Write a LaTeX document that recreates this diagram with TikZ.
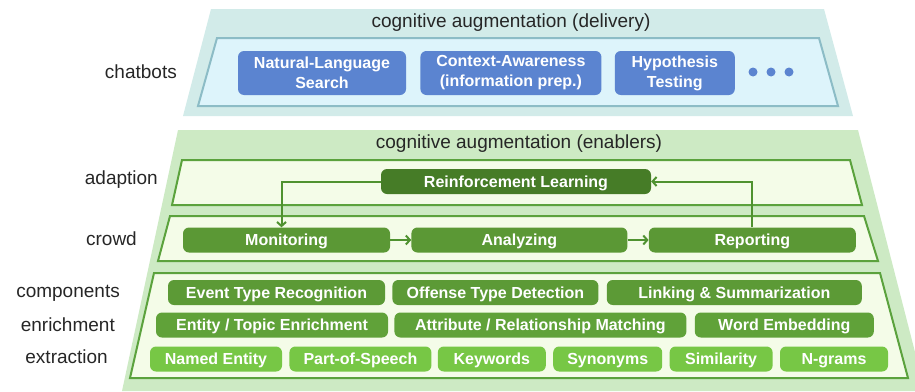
\documentclass[tikz,border=0pt]{standalone}
\usepackage{fontspec}
\setmainfont{Liberation Sans}
\usepackage{tikz}
\usetikzlibrary{arrows.meta}
\usetikzlibrary{positioning}
\definecolor{tealout}{HTML}{D2EBE9}
\definecolor{tealin}{HTML}{DDF4FB}
\definecolor{tealline}{HTML}{8CBCC6}
\definecolor{boxblue}{HTML}{5B84D0}
\definecolor{greenout}{HTML}{CDEAC4}
\definecolor{greenin}{HTML}{F4FCE8}
\definecolor{greenline}{HTML}{5BA23D}
\definecolor{rlgreen}{HTML}{467C27}
\definecolor{midgreen}{HTML}{5B9835}
\definecolor{compgreen}{HTML}{5C9A36}
\definecolor{enrgreen}{HTML}{60A239}
\definecolor{extgreen}{HTML}{77C745}
\definecolor{arrowgreen}{HTML}{4F9230}
\tikzset{
    block/.style={
           rectangle,
           rounded corners=6pt,
           fill=boxblue,
           text=white,
           font=\fontsize{16}{20}\selectfont\bfseries,
           minimum height=44pt,
           inner sep=0pt,
           align=center,
           },
     gblock/.style={
           rectangle,
           rounded corners=6pt,
           fill=#1,
           text=white,
           font=\fontsize{16}{19}\selectfont\bfseries,
           minimum height=25pt,
           text height=11.5pt,
           text depth=0pt,
           inner sep=0pt,
           text centered,
           },
     layer/.style={
           font=\fontsize{19}{21}\selectfont,
           text=black!85,
           inner sep=0pt,
           },
     flow/.style={
           -{Straight Barb[length=4pt,width=9pt,line width=2pt]},
           draw=arrowgreen,
           line width=2pt,
           },
}

\begin{document}
\begin{tikzpicture}[x=1pt,y=-1pt]
	\useasboundingbox (0,0) rectangle (915,391);
	% delivery layer
	\fill[tealout] (211,9) -- (824,9) -- (853,116) -- (183,116) -- cycle;
	\filldraw[fill=tealin, draw=tealline, line width=2pt] (217,38) -- (819,38) -- (838,106) -- (198,106) -- cycle;
	% enablers layer
	\fill[greenout] (178,130) -- (858,130) -- (925,391) -- (122,391) -- cycle;
	\filldraw[fill=greenin, draw=greenline, line width=2pt] (182,160) -- (850,160) -- (862,205) -- (172,205) -- cycle;
	\filldraw[fill=greenin, draw=greenline, line width=2pt] (170,216) -- (864,216) -- (878,261) -- (158,261) -- cycle;
	\filldraw[fill=greenin, draw=greenline, line width=2pt] (154,273) -- (880,273) -- (908,378) -- (130,378) -- cycle;

	\node[layer] (deliv) at (511,23) {cognitive augmentation (delivery)};
	\node[layer] (enabl) at (519,144) {cognitive augmentation (enablers)};

	\node[layer, anchor=mid east] (chat) at (177,76) {chatbots};
	\node[layer, anchor=mid east] (adap) at (158,182) {adaption};
	\node[layer, anchor=mid east] (crowd) at (137,243) {crowd};
	\node[layer, anchor=mid east] (comp) at (120,295) {components};
	\node[layer, anchor=mid east] (enr) at (115,329) {enrichment};
	\node[layer, anchor=mid east] (ext) at (108,361) {extraction};

	\node[block, minimum width=168pt] (nls) at (322,73) {Natural-Language\\Search};
	\node[block, minimum width=181pt, right=14pt of nls] (ctx) {Context-Awareness\\(information prep.)};
	\node[block, minimum width=120pt, right=13pt of ctx] (hyp) {Hypothesis\\Testing};
	\foreach \x in {753,771,789}
		\fill[boxblue] (\x,72) circle (4.5);

	\node[gblock=rlgreen, minimum width=270pt] (rl) at (516,181.5) {Reinforcement Learning};

	\node[gblock=midgreen, minimum width=207pt] (mon) at (286.5,240) {Monitoring};
	\node[gblock=midgreen, minimum width=216pt, right=21pt of mon] (ana) {Analyzing};
	\node[gblock=midgreen, minimum width=207pt, right=21pt of ana] (rep) {Reporting};

	\node[gblock=compgreen, minimum width=217pt] (etr) at (276.5,292.5) {Event Type Recognition};
	\node[gblock=compgreen, minimum width=206pt, right=7pt of etr] (otd) {Offense Type Detection};
	\node[gblock=compgreen, minimum width=255pt, right=8pt of otd] (lsum) {Linking \& Summarization};

	\node[gblock=enrgreen, minimum width=232pt] (ete) at (272,325) {Entity / Topic Enrichment};
	\node[gblock=enrgreen, minimum width=292pt, right=6pt of ete] (arm) {Attribute / Relationship Matching};
	\node[gblock=enrgreen, minimum width=179pt, right=8pt of arm] (wemb) {Word Embedding};

	\node[gblock=extgreen, minimum width=132pt] (ne) at (216,359) {Named Entity};
	\node[gblock=extgreen, minimum width=142pt, right=7pt of ne] (pos) {Part-of-Speech};
	\node[gblock=extgreen, minimum width=108pt, right=6pt of pos] (kw) {Keywords};
	\node[gblock=extgreen, minimum width=109pt, right=7pt of kw] (syn) {Synonyms};
	\node[gblock=extgreen, minimum width=103pt, right=7pt of syn] (sim) {Similarity};
	\node[gblock=extgreen, minimum width=108pt, right=7pt of sim] (ngr) {N-grams};

	\draw[flow] (rl.west) -| ([xshift=-5pt]mon.north);
	\draw[flow] (rep.north) |- (rl.east);
	\draw[flow] (mon) -- (ana);
	\draw[flow] (ana) -- (rep);
\end{tikzpicture}
\end{document}
